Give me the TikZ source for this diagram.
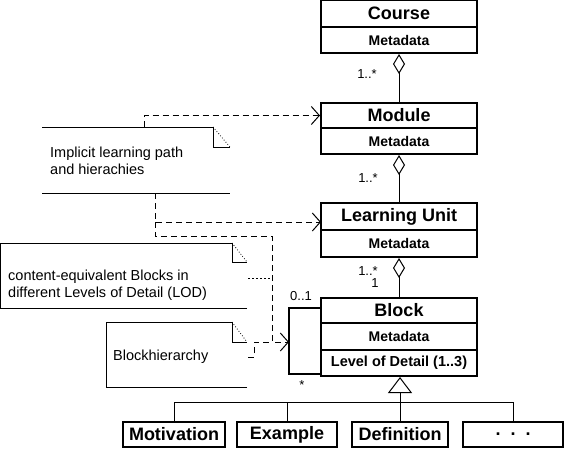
\documentclass[tikz,border=0pt]{standalone}
\usepackage{fontspec}
\setmainfont{Liberation Sans}
\usetikzlibrary{arrows.meta}
\begin{document}
\begin{tikzpicture}[x=1pt,y=-1pt,
  cls/.style={draw, line width=2pt, minimum width=156pt, inner sep=0pt, font=\bfseries\fontsize{18}{18}\selectfont},
  meta/.style={draw, line width=2pt, minimum width=156pt, inner sep=0pt, font=\bfseries\fontsize{14}{14}\selectfont},
  sub/.style={draw, line width=2pt, minimum height=25pt, inner sep=0pt, font=\bfseries\fontsize{18}{18}\selectfont},
  dsh/.style={line width=1pt, dash pattern=on 6pt off 4pt},
  dep/.style={dsh, -{Straight Barb[length=8pt,width=18pt,line width=1pt]}},
  agg/.style={line width=1pt, {Diamond[open,length=20pt,width=12pt,line width=1pt]}-},
  gen/.style={line width=1pt, -{Triangle[open,length=16pt,width=24pt,line width=1pt]}},
  notel/.style={line width=1pt},
  fold/.style={line width=0.8pt, dotted},
  notetext/.style={anchor=base west, inner sep=0pt, align=left, font=\fontsize{14.5}{17}\selectfont},
  mult/.style={inner sep=0pt, font=\fontsize{13}{13}\selectfont}
]
\useasboundingbox (0,0) rectangle (564,450);

% classes
\node[cls, minimum height=27pt] (course) at (399,13.5) {Course};
\node[meta, minimum height=26pt] (cmeta) at (399,40) {Metadata};
\node[cls, minimum height=25pt] (module) at (399,115.5) {Module};
\node[meta, minimum height=26pt] (mmeta) at (399,141) {Metadata};
\node[cls, minimum height=27pt] (lu) at (399,216.5) {Learning Unit};
\node[meta, minimum height=27pt] (lmeta) at (399,243.5) {Metadata};
\node[cls, minimum height=25pt] (block) at (399,310.5) {Block};
\node[meta, minimum height=27pt] (bmeta) at (399,336.5) {Metadata};
\node[meta, minimum height=26pt, font=\bfseries\fontsize{14.5}{14.5}\selectfont] (lod) at (399,363) {Level of Detail (1..3)};

% subclasses
\node[sub, minimum width=102pt] (motiv) at (174,434.5) {Motivation};
\node[sub, minimum width=100pt] (example) at (287,434.5) {Example};
\node[sub, minimum width=96pt] (defin) at (400,434.5) {Definition};
\node[sub, minimum width=100pt] (dots) at (513,434.5) {.\hspace{10pt}.\hspace{10pt}.};

% aggregations
\draw[agg] (cmeta.south) -- (module.north);
\draw[agg] (mmeta.south) -- (lu.north);
\draw[agg] (lmeta.south) -- (block.north);
\node[mult] (m1) at (367,74) {1..*};
\node[mult] (m2) at (368,178) {1..*};
\node[mult] (m3) at (368,271) {1..*};
\node[mult] (m4) at (375,283) {1};

% generalization
\coordinate (j) at (400,402);
\draw[gen] (defin.north) -- (lod.south -| defin.north);
\draw[line width=1pt] (motiv.north) -- (motiv.north |- j) -- (dots.north |- j) -- (dots.north);
\draw[line width=1pt] (example.north) -- (example.north |- j);

% self association
\coordinate (sa1) at (321,308);
\coordinate (sa2) at (289,308);
\coordinate (sa3) at (289,374);
\coordinate (sa4) at (321,374);
\draw[line width=1.5pt] (sa1) -- (sa2) -- (sa3) -- (sa4);
\node[mult] (m5) at (301,296) {0..1};
\node[mult] (m6) at (302,385) {*};

% note 1
\draw[notel] (42,127) -- (213,127) -- (213,147) -- (230,147);
\draw[fold] (213,127) -- (230,147);
\draw[notel] (42,193) -- (230,193);
\node[notetext] (n1) at (50,174) {Implicit learning path\\and hierachies};

% note 2
\draw[notel] (247,308) -- (0,308) -- (0,243) -- (232,243) -- (232,262) -- (247,262);
\draw[fold] (232,243) -- (247,262);
\node[notetext] (n2) at (8,297) {content-equivalent Blocks in\\different Levels of Detail (LOD)};

% note 3
\draw[notel] (247,387) -- (106,387) -- (106,322) -- (232,322) -- (232,342) -- (247,342);
\draw[fold] (232,322) -- (247,342);
\node[notetext] (n3) at (113,360) {Blockhierarchy};

% dependencies
\coordinate (d1a) at (144,127);
\coordinate (d1b) at (144,115.5);
\draw[dep] (d1a) -- (d1b) -- (module.west);
\coordinate (d2a) at (155,193);
\coordinate (d2b) at (155,222);
\coordinate (d2c) at (321,222);
\draw[dep] (d2a) -- (d2b) -- (d2c);
\coordinate (d3a) at (155,222);
\coordinate (d3b) at (155,236);
\coordinate (d3c) at (272,236);
\coordinate (d3d) at (272,342);
\coordinate (d3e) at (289,342);
\draw[dep] (d3a) -- (d3b) -- (d3c) -- (d3d) -- (d3e);
\coordinate (d4a) at (248,357);
\coordinate (d4b) at (254,357);
\coordinate (d4c) at (254,342);
\draw[dsh] (d4a) -- (d4b) -- (d4c) -- (d3d);
\coordinate (d5a) at (248,278);
\coordinate (d5b) at (270,278);
\draw[line width=1pt, dash pattern=on 2pt off 2pt] (d5a) -- (d5b);
\end{tikzpicture}
\end{document}
